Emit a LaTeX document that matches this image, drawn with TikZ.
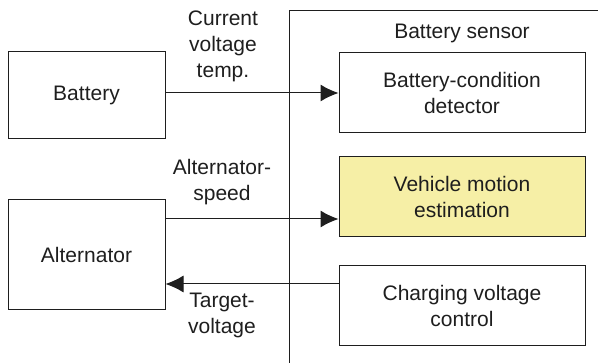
\documentclass[tikz,border=0pt]{standalone}
\usepackage{fontspec}
\setmainfont{Liberation Sans}
\usetikzlibrary{arrows.meta}
\definecolor{estfill}{HTML}{F6EFA6}
\definecolor{ink}{HTML}{1E1E1E}

\begin{document}
\begin{tikzpicture}[x=1pt,y=-1pt,
  font=\fontsize{21}{26}\selectfont, text=ink,
  blk/.style={draw=ink, line width=1pt, align=center, inner sep=0pt},
  lbl/.style={align=center, inner sep=0pt},
  arr/.style={draw=ink, line width=1pt, -{Latex[length=18pt,width=17pt]}}]
  \useasboundingbox (0,0) rectangle (598,363);
  % sensor frame, open to the right and bottom
  \draw[draw=ink, line width=1pt] (598,11) -- (289,11) -- (289,363);
  \node (sens) at (462,33) {Battery sensor};

  \node[blk, minimum width=157pt, minimum height=87pt]  (bat) at (86.5,95.5) {Battery};
  \node[blk, minimum width=157pt, minimum height=110pt] (alt) at (86.5,255)  {Alternator};
  \node[blk, minimum width=246pt, minimum height=80pt]  (bcd) at (462,93)    {Battery-condition\\detector};
  \node[blk, minimum width=246pt, minimum height=80pt, fill=estfill] (vme) at (462,197) {Vehicle motion\\estimation};
  \node[blk, minimum width=246pt, minimum height=80pt]  (cvc) at (462,306)   {Charging voltage\\control};

  \node[lbl] (cvt) at (223,46)  {Current\\voltage\\temp.};
  \node[lbl] (spl) at (222,182) {Alternator-\\speed};
  \node[lbl] (tvl) at (222,315) {Target-\\voltage};

  \coordinate (spd) at (250,219);
  \coordinate (tgt) at (250,284);
  \draw[arr] (bat.east |- bcd.west) -- (bcd.west);
  \draw[arr] (alt.east |- spd) -- (vme.west |- spd);
  \draw[arr] (cvc.west |- tgt) -- (alt.east |- tgt);
\end{tikzpicture}
\end{document}
